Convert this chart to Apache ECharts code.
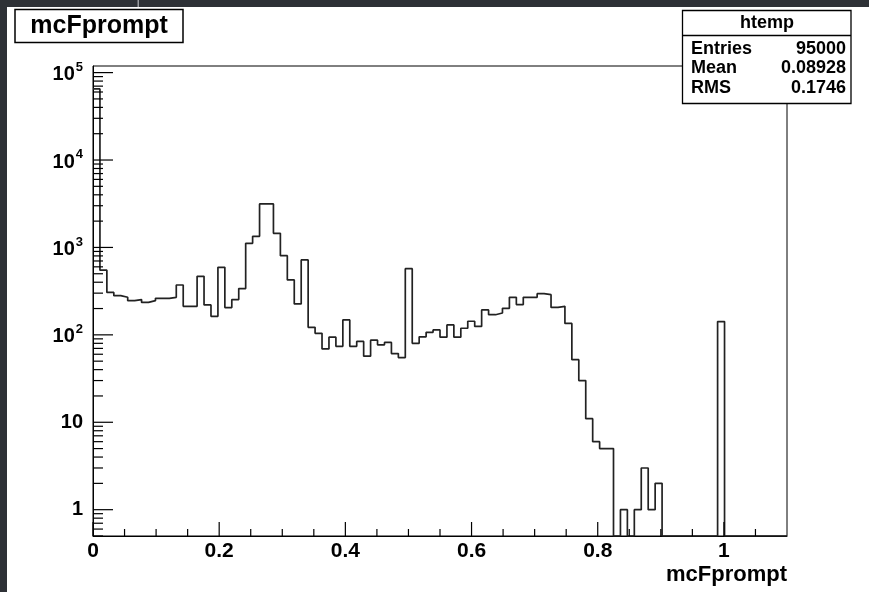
<!DOCTYPE html>
<html>
<head>
<meta charset="utf-8">
<script src="https://cdn.jsdelivr.net/npm/echarts@6/dist/echarts.min.js"></script>
<style>
html,body{margin:0;padding:0;background:#fff;}
#chart{width:869px;height:592px;}
</style>
</head>
<body>
<div id="chart"></div>
<script>
// ---- data ----
const xMin = 0, xMax = 1.1, nBins = 100;
const binValues = [
  65000, 550, 306, 281, 269, 246, 253, 235, 246, 262,
  262, 269, 372, 212, 212, 467, 220, 163, 592, 205,
  253, 338, 1113, 1340, 3150, 3150, 1450, 805, 425, 226,
  719, 122, 104, 69, 94, 74, 148, 74, 84, 57,
  87, 77, 82, 61, 55, 572, 80, 95, 107, 114,
  94, 130, 94, 119, 143, 125, 193, 170, 178, 201,
  269, 222, 269, 269, 296, 288, 206, 212, 135, 52,
  30, 11, 6, 5, 5, 0, 1, 0, 1, 3,
  1, 2, 0, 0, 0, 0, 0, 0, 0, 0,
  142, 0, 0, 0, 0, 0, 0, 0, 0, 0
];
const yMin = 0.5, yMax = 1.19e5;
const xMajorTicks = [0, 0.2, 0.4, 0.6, 0.8, 1.0];
const xMinorTicks = [0.05, 0.1, 0.15, 0.25, 0.3, 0.35, 0.45, 0.5, 0.55, 0.65, 0.7, 0.75, 0.85, 0.9, 0.95, 1.05];
const yMajorTicks = [1, 10, 100, 1000, 10000, 100000];
const yMinorMantissas = [2, 3, 4, 5, 6, 7, 8, 9];
const yMinorBelowOne = [0.5, 0.6, 0.7, 0.8, 0.9];
const statsTitle = 'htemp';
const statsRows = [['Entries', '95000'], ['Mean', '0.08928'], ['RMS', '0.1746']];
const histTitle = 'mcFprompt';
const xAxisTitle = 'mcFprompt';

// ---- build ----
const binW = (xMax - xMin) / nBins;
const histData = binValues.map((v, i) => [xMin + i * binW, v > 0 ? v : yMin]);
histData.push([xMax, binValues[nBins - 1] > 0 ? binValues[nBins - 1] : yMin]);

const yMinorTicks = yMinorBelowOne.slice();
for (let d = 0; d < 5; d++) yMinorMantissas.forEach(m => yMinorTicks.push(m * Math.pow(10, d)));

const tickData = [];
xMajorTicks.forEach(v => tickData.push([v, yMin, 14, 0]));
xMinorTicks.forEach(v => tickData.push([v, yMin, 7, 0]));
yMajorTicks.forEach(v => tickData.push([xMin, v, 20, 1]));
yMinorTicks.forEach(v => tickData.push([xMin, v, 10, 1]));

const FONT = '"Liberation Sans", Arial, Helvetica, sans-serif';
const chart = echarts.init(document.getElementById('chart'), null, {renderer: 'canvas'});

const statsChildren = [
  {type: 'rect', shape: {x: 682.5, y: 10.5, width: 168.5, height: 93}, style: {fill: '#fff', stroke: '#000', lineWidth: 1.3}},
  {type: 'line', shape: {x1: 682.5, y1: 35.5, x2: 851, y2: 35.5}, style: {stroke: '#000', lineWidth: 1.3}},
  {type: 'text', x: 767, y: 23, style: {text: statsTitle, font: 'bold 18px ' + FONT, fill: '#000', textAlign: 'center', textVerticalAlign: 'middle'}}
];
statsRows.forEach((r, i) => {
  const y = 49 + i * 19.5;
  statsChildren.push({type: 'text', x: 691, y: y, style: {text: r[0], font: 'bold 18px ' + FONT, fill: '#000', textAlign: 'left', textVerticalAlign: 'middle'}});
  statsChildren.push({type: 'text', x: 846, y: y, style: {text: r[1], font: 'bold 18px ' + FONT, fill: '#000', textAlign: 'right', textVerticalAlign: 'middle'}});
});

const option = {
  animation: false,
  backgroundColor: '#fff',
  grid: {left: 93, right: 82, top: 66, bottom: 56, show: true, borderColor: '#000', borderWidth: 1, backgroundColor: 'transparent'},
  xAxis: {
    type: 'value', min: xMin, max: xMax, interval: 0.2,
    axisLine: {show: true, onZero: false, lineStyle: {color: '#000', width: 1}},
    axisTick: {show: false},
    splitLine: {show: false},
    axisLabel: {
      color: '#000', fontFamily: FONT, fontWeight: 'bold', fontSize: 21, margin: 5,
      showMaxLabel: false,
      formatter: v => (Math.abs(v / 0.2 - Math.round(v / 0.2)) < 1e-6 && v <= 1.0001) ? String(+v.toFixed(1)) : ''
    }
  },
  yAxis: {
    type: 'log', logBase: 10, min: yMin, max: yMax,
    axisLine: {show: true, lineStyle: {color: '#000', width: 1}},
    axisTick: {show: false},
    splitLine: {show: false},
    axisLabel: {
      color: '#000', fontFamily: FONT, fontWeight: 'bold', fontSize: 20, margin: 10,
      showMinLabel: false, showMaxLabel: false,
      formatter: v => {
        const l = Math.log10(v), e = Math.round(l);
        if (Math.abs(l - e) > 1e-6) return '';
        if (e === 0) return '1';
        if (e === 1) return '10';
        return '{b|10}{s|' + e + '}';
      },
      rich: {
        b: {fontFamily: FONT, fontWeight: 'bold', fontSize: 20, color: '#000', verticalAlign: 'bottom', lineHeight: 24},
        s: {fontFamily: FONT, fontWeight: 'bold', fontSize: 13, color: '#000', verticalAlign: 'top', lineHeight: 24, padding: [0, 0, 12, 1]}
      }
    }
  },
  series: [
    {
      type: 'line', step: 'end', showSymbol: false, symbol: 'none',
      data: histData,
      lineStyle: {color: '#222', width: 1.7},
      z: 3
    },
    {
      type: 'custom', data: tickData, z: 4, silent: true,
      renderItem: (params, api) => {
        const p = api.coord([api.value(0), api.value(1)]);
        const len = api.value(2), dir = api.value(3);
        const shape = dir === 0
          ? {x1: p[0], y1: p[1], x2: p[0], y2: p[1] - len}
          : {x1: p[0], y1: p[1], x2: p[0] + len, y2: p[1]};
        return {type: 'line', shape: shape, style: {stroke: '#000', lineWidth: 1.2}};
      }
    }
  ],
  graphic: [
    {type: 'rect', z: 100, shape: {x: 0, y: 0, width: 869, height: 7}, style: {fill: '#2e3136'}},
    {type: 'rect', z: 100, shape: {x: 0, y: 0, width: 7, height: 592}, style: {fill: '#2e3136'}},
    {type: 'rect', z: 101, shape: {x: 137.5, y: 0, width: 1.5, height: 7}, style: {fill: '#9a9ca0'}},
    {type: 'rect', z: 100, shape: {x: 15, y: 9.5, width: 168, height: 33}, style: {fill: '#fff', stroke: '#000', lineWidth: 1.5}},
    {type: 'text', z: 101, x: 99, y: 26.5, style: {text: histTitle, font: 'bold 25px ' + FONT, fill: '#000', textAlign: 'center', textVerticalAlign: 'middle'}},
    {type: 'group', z: 100, children: statsChildren},
    {type: 'text', z: 100, x: 787, y: 575, style: {text: xAxisTitle, font: 'bold 22px ' + FONT, fill: '#000', textAlign: 'right', textVerticalAlign: 'middle'}}
  ]
};
chart.setOption(option);
</script>
</body>
</html>
